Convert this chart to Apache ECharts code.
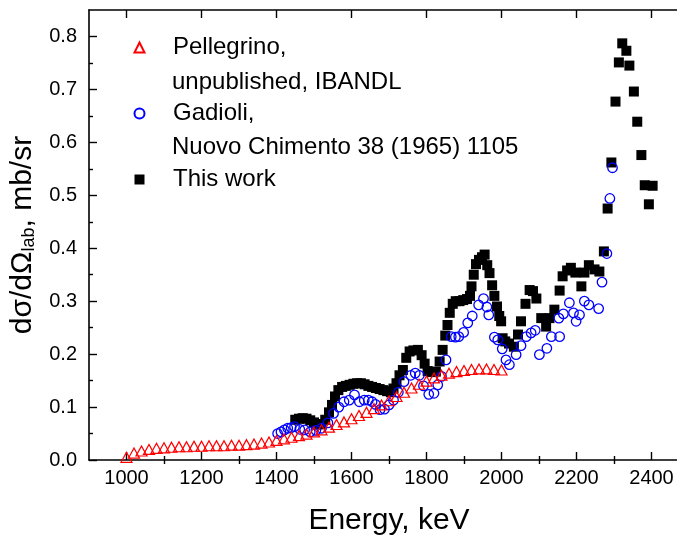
<!DOCTYPE html>
<html>
<head>
<meta charset="utf-8">
<script src="https://cdn.jsdelivr.net/npm/echarts@6/dist/echarts.min.js"></script>
<style>
  html, body { margin: 0; padding: 0; background: #ffffff; }
  #chart { width: 677px; height: 537px; }
</style>
</head>
<body>
<div id="chart"></div>
<script>
// Pellegrino, unpublished (IBANDL): energy (keV) and cross section (mb/sr)
const pellegrinoE = [1000, 1020, 1040, 1060, 1080, 1100, 1120, 1140, 1160, 1180,
  1200, 1220, 1240, 1260, 1280, 1300, 1320, 1340, 1360, 1380,
  1400, 1420, 1440, 1460, 1480, 1500, 1520, 1540, 1560, 1580,
  1600, 1620, 1640, 1660, 1680, 1700, 1720, 1740, 1760, 1780,
  1800, 1820, 1840, 1860, 1880, 1900, 1920, 1940, 1960, 1980, 2000];
const pellegrinoY = [0.005, 0.013, 0.017, 0.020, 0.022, 0.023, 0.024, 0.025, 0.025, 0.026,
  0.026, 0.027, 0.027, 0.027, 0.028, 0.028, 0.029, 0.030, 0.032, 0.034,
  0.037, 0.040, 0.043, 0.046, 0.049, 0.053, 0.057, 0.062, 0.067, 0.072,
  0.078, 0.084, 0.090, 0.097, 0.104, 0.112, 0.120, 0.128, 0.136, 0.143,
  0.149, 0.155, 0.160, 0.164, 0.167, 0.169, 0.171, 0.172, 0.172, 0.171, 0.170];

// Gadioli, Nuovo Cimento 38 (1965) 1105
const gadioliE = [1403, 1412, 1421, 1430, 1439, 1448, 1462, 1475, 1490, 1505,
  1520, 1537, 1552, 1566, 1580, 1594, 1608, 1621, 1634, 1645,
  1655, 1664, 1676, 1688, 1700, 1712, 1725, 1740, 1758, 1770,
  1781, 1792, 1806, 1820, 1830, 1840, 1852, 1866, 1877, 1886,
  1899, 1910, 1922, 1939, 1952, 1961, 1966, 1981, 1990, 2002,
  2012, 2021, 2039, 2052, 2066, 2079, 2090, 2101, 2121, 2133,
  2153, 2155, 2165, 2181, 2192, 2199, 2208, 2221, 2233, 2259,
  2268, 2281, 2289, 2296];
const gadioliY = [0.050, 0.053, 0.057, 0.060, 0.061, 0.063, 0.058, 0.057, 0.053, 0.056,
  0.060, 0.070, 0.088, 0.100, 0.110, 0.113, 0.123, 0.110, 0.113, 0.113,
  0.110, 0.105, 0.095, 0.096, 0.104, 0.113, 0.128, 0.148, 0.160, 0.164,
  0.160, 0.140, 0.124, 0.126, 0.142, 0.158, 0.189, 0.233, 0.232, 0.233,
  0.241, 0.259, 0.272, 0.293, 0.305, 0.289, 0.274, 0.232, 0.227, 0.210,
  0.189, 0.180, 0.199, 0.216, 0.233, 0.240, 0.245, 0.199, 0.211, 0.233,
  0.268, 0.233, 0.276, 0.297, 0.278, 0.262, 0.274, 0.300, 0.293, 0.286,
  0.336, 0.390, 0.494, 0.552];

// This work
const thisWorkE = [1450, 1460, 1470, 1480, 1490, 1500, 1510, 1520, 1530, 1540,
  1548, 1556, 1565, 1575, 1585, 1595, 1605, 1615, 1625, 1635,
  1645, 1655, 1665, 1675, 1685, 1695, 1705, 1712, 1720, 1728,
  1737, 1746, 1755, 1765, 1777, 1787, 1795, 1803, 1813, 1825,
  1835, 1843, 1850, 1856, 1862, 1870, 1878, 1888, 1898, 1908,
  1916, 1920, 1926, 1932, 1940, 1948, 1955, 1962, 1968, 1975,
  1981, 1988, 1994, 1999, 2003, 2010, 2020, 2033, 2044, 2052,
  2064, 2075, 2084, 2093, 2106, 2119, 2128, 2141, 2155, 2163,
  2175, 2185, 2197, 2213, 2221, 2233, 2248, 2261, 2273, 2283,
  2293, 2304, 2313, 2322, 2333, 2341, 2353, 2362, 2373, 2382,
  2393, 2403];
const thisWorkY = [0.076, 0.078, 0.079, 0.078, 0.075, 0.071, 0.067, 0.068, 0.076, 0.090,
  0.104, 0.120, 0.132, 0.138, 0.140, 0.142, 0.144, 0.145, 0.145, 0.143,
  0.140, 0.138, 0.136, 0.134, 0.132, 0.130, 0.128, 0.135, 0.145, 0.160,
  0.170, 0.193, 0.205, 0.207, 0.208, 0.198, 0.182, 0.168, 0.166, 0.167,
  0.186, 0.208, 0.235, 0.255, 0.278, 0.295, 0.300, 0.300, 0.302, 0.304,
  0.310, 0.328, 0.350, 0.370, 0.378, 0.383, 0.388, 0.368, 0.353, 0.330,
  0.310, 0.290, 0.272, 0.262, 0.230, 0.224, 0.220, 0.214, 0.237, 0.262,
  0.295, 0.321, 0.319, 0.305, 0.268, 0.252, 0.268, 0.284, 0.320, 0.347,
  0.358, 0.363, 0.354, 0.328, 0.354, 0.368, 0.360, 0.356, 0.394, 0.475,
  0.562, 0.677, 0.751, 0.787, 0.773, 0.745, 0.696, 0.639, 0.576, 0.519,
  0.483, 0.518];

// Axis ticks
const xMajorTicks = [1000, 1200, 1400, 1600, 1800, 2000, 2200, 2400];
const xMinorTicks = [1100, 1300, 1500, 1700, 1900, 2100, 2300];
const yMajorTicks = [0, 0.1, 0.2, 0.3, 0.4, 0.5, 0.6, 0.7, 0.8];
const yMinorTicks = [0.05, 0.15, 0.25, 0.35, 0.45, 0.55, 0.65, 0.75];

const FONT = '"Liberation Sans", Arial, Helvetica, sans-serif';
const zip = (xs, ys) => xs.map((x, i) => [x, ys[i]]);

function xAxisDef(position, ticks, tickLen, opts) {
  return Object.assign({
    type: 'value', position: position, min: 900, max: 2500,
    axisLine: { show: false, lineStyle: { color: '#000', width: 1.6 } },
    axisTick: { show: true, inside: true, length: tickLen, customValues: ticks,
                lineStyle: { color: '#000', width: 1.4 } },
    axisLabel: { show: false },
    splitLine: { show: false }
  }, opts || {});
}
function yAxisDef(position, ticks, tickLen, opts) {
  return Object.assign({
    type: 'value', position: position, min: 0, max: 0.85,
    axisLine: { show: false, lineStyle: { color: '#000', width: 1.6 } },
    axisTick: { show: true, inside: true, length: tickLen, customValues: ticks,
                lineStyle: { color: '#000', width: 1.4 } },
    axisLabel: { show: false },
    splitLine: { show: false }
  }, opts || {});
}

const chart = echarts.init(document.getElementById('chart'), null, { renderer: 'canvas' });

chart.setOption({
  animation: false,
  backgroundColor: '#ffffff',
  textStyle: { fontFamily: FONT },
  grid: { left: 89, top: 10, width: 600, height: 450,
          containLabel: false, outerBoundsMode: 'none' },
  xAxis: [
    xAxisDef('bottom', xMajorTicks, 8, {
      axisLine: { show: true, onZero: false, lineStyle: { color: '#000', width: 1.6 } },
      axisLabel: { show: true, customValues: xMajorTicks, margin: 8,
                   color: '#000', fontSize: 20, fontFamily: FONT,
                   formatter: v => String(v) },
      name: 'Energy, keV', nameLocation: 'middle', nameGap: 46,
      nameTextStyle: { fontSize: 30, color: '#000', fontFamily: FONT }
    }),
    xAxisDef('bottom', xMinorTicks, 4),
    xAxisDef('top', xMajorTicks, 8, {
      axisLine: { show: true, onZero: false, lineStyle: { color: '#000', width: 1.6 } }
    }),
    xAxisDef('top', xMinorTicks, 4)
  ],
  yAxis: [
    yAxisDef('left', yMajorTicks, 8, {
      axisLine: { show: true, onZero: false, lineStyle: { color: '#000', width: 1.6 } },
      axisLabel: { show: true, customValues: yMajorTicks, margin: 12,
                   color: '#000', fontSize: 20, fontFamily: FONT,
                   formatter: v => v.toFixed(1) },
      name: 'dσ/dΩ{sub|lab}, mb/sr', nameLocation: 'middle', nameGap: 44,
      nameTextStyle: {
        fontSize: 30, color: '#000', fontFamily: FONT,
        rich: { sub: { fontSize: 18, fontFamily: FONT, color: '#000',
                       verticalAlign: 'bottom', padding: [14, 0, 0, 0] } }
      }
    }),
    yAxisDef('left', yMinorTicks, 4),
    yAxisDef('right', yMajorTicks, 8, {
      axisLine: { show: true, onZero: false, lineStyle: { color: '#000', width: 1.6 } }
    })
  ],
  legend: {
    data: ['Pellegrino, unpublished, IBANDL', 'Gadioli, Nuovo Chimento 38 (1965) 1105', 'This work'],
    formatter: name => name.split(', ')[0] + (name === 'This work' ? '' : ','),
    orient: 'vertical',
    left: 133.5, top: 31,
    padding: 0,
    itemWidth: 10, itemHeight: 10, itemGap: 33,
    textStyle: { fontSize: 24, lineHeight: 33, color: '#000', fontFamily: FONT,
                 padding: [0, 0, 0, 23.5] },
    selectedMode: false
  },
  graphic: [
    { type: 'text', x: 172, y: 82,
      style: { text: 'unpublished, IBANDL', fontSize: 24, fontFamily: FONT,
               fill: '#000', verticalAlign: 'middle' } },
    { type: 'text', x: 172, y: 147,
      style: { text: 'Nuovo Chimento 38 (1965) 1105', fontSize: 24, fontFamily: FONT,
               fill: '#000', verticalAlign: 'middle' } }
  ],
  series: [
    {
      name: 'This work', type: 'scatter', xAxisIndex: 0, yAxisIndex: 0,
      data: zip(thisWorkE, thisWorkY),
      symbol: 'rect', symbolSize: 10,
      itemStyle: { color: '#000000', opacity: 1 },
      emphasis: { disabled: true }
    },
    {
      name: 'Gadioli, Nuovo Chimento 38 (1965) 1105', type: 'scatter', xAxisIndex: 0, yAxisIndex: 0,
      data: zip(gadioliE, gadioliY),
      symbol: 'circle', symbolSize: 9.5,
      itemStyle: { color: 'rgba(0,0,0,0)', borderColor: '#0000ff', borderWidth: 1.3, opacity: 1 },
      emphasis: { disabled: true }
    },
    {
      name: 'Pellegrino, unpublished, IBANDL', type: 'scatter', xAxisIndex: 0, yAxisIndex: 0,
      data: zip(pellegrinoE, pellegrinoY),
      symbol: 'triangle', symbolSize: [11, 10],
      itemStyle: { color: 'rgba(0,0,0,0)', borderColor: '#ff0000', borderWidth: 1.2, opacity: 1 },
      emphasis: { disabled: true }
    }
  ]
});
</script>
</body>
</html>
